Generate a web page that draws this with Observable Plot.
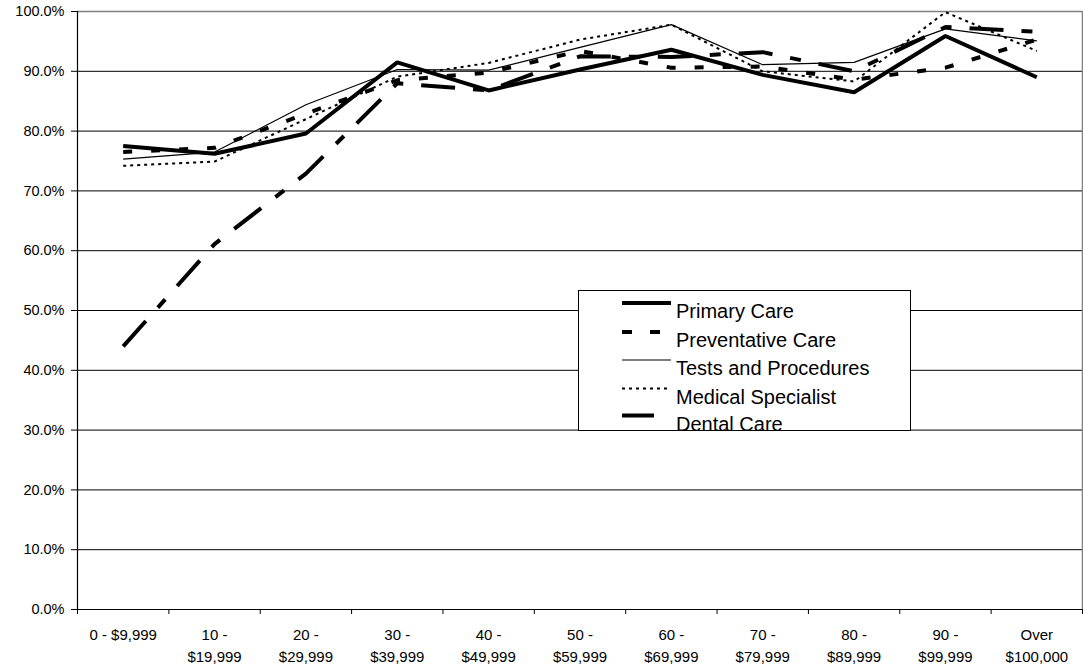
<!DOCTYPE html>
<html><head><meta charset="utf-8">
<script src="https://cdn.jsdelivr.net/npm/d3@7"></script>
<script src="https://cdn.jsdelivr.net/npm/@observablehq/plot@0.6"></script>
<style>
body{margin:0;background:#fff;}
#wrap{position:relative;width:1083px;height:670px;font-family:'Liberation Sans',Arial,sans-serif;}
#legend{position:absolute;left:578px;top:290px;width:333px;height:141px;box-sizing:border-box;border:1px solid #000;background:#fff;overflow:visible;}
#legend svg{display:block;overflow:visible;}
</style></head><body>
<div id="wrap"><div id="chart"></div><div id="legend"></div></div>
<script>
const categories = ["0 - $9,999","10 -\n$19,999","20 -\n$29,999","30 -\n$39,999","40 -\n$49,999","50 -\n$59,999","60 -\n$69,999","70 -\n$79,999","80 -\n$89,999","90 -\n$99,999","Over\n$100,000"];
const seriesNames = ["Primary Care","Preventative Care","Tests and Procedures","Medical Specialist","Dental Care"];
const primaryCare       = [77.5, 76.2, 79.6, 91.5, 86.8, 90.3, 93.6, 89.4, 86.5, 95.9, 89.0];
const preventativeCare  = [76.5, 77.2, 82.9, 88.5, 89.8, 93.4, 90.6, 90.8, 88.6, 90.6, 95.3];
const testsProcedures   = [75.3, 76.5, 84.4, 90.3, 90.2, 94.0, 97.8, 91.1, 91.5, 97.1, 95.1];
const medicalSpecialist = [74.2, 74.9, 82.0, 89.1, 91.4, 95.3, 97.8, 90.0, 88.3, 99.9, 93.4];
const dentalCare        = [44.0, 61.1, 72.9, 88.0, 86.8, 92.5, 92.4, 93.2, 90.0, 97.4, 96.6];
const yTicks = [0,10,20,30,40,50,60,70,80,90,100];

const seriesValues = [primaryCare, preventativeCare, testsProcedures, medicalSpecialist, dentalCare];
const styles = [
  {strokeWidth:4, strokeDasharray:null},
  {strokeWidth:4, strokeDasharray:"9,19"},
  {strokeWidth:1.2, strokeDasharray:null},
  {strokeWidth:2, strokeDasharray:"3,4"},
  {strokeWidth:4, strokeDasharray:"34,18,11,18"}
];

const lineMarks = seriesValues.map((vals, s) => {
  const data = vals.map((v, i) => ({i, v, series: seriesNames[s]}));
  const st = styles[s];
  const opts = {x:"i", y:"v", stroke:"#000", strokeWidth:st.strokeWidth, strokeLinejoin:"miter", strokeLinecap:"butt"};
  if (st.strokeDasharray) opts.strokeDasharray = st.strokeDasharray;
  return Plot.line(data, opts);
});

const chart = Plot.plot({
  width:1083, height:670,
  marginLeft:77, marginRight:1, marginTop:11, marginBottom:61,
  style:{fontFamily:"'Liberation Sans', Arial, sans-serif", fontSize:"14px", color:"#000", background:"#fff", overflow:"visible"},
  x:{type:"linear", domain:[-0.5, 10.5]},
  y:{domain:[0,100]},
  marks:[
    Plot.gridY(yTicks.filter(t => t > 0 && t < 100), {stroke:"#000", strokeOpacity:1, strokeWidth:1}),
    Plot.ruleY([100], {stroke:"#808080", strokeWidth:1.5}),
    Plot.ruleX([10.5], {stroke:"#808080", strokeWidth:1.5}),
    ...lineMarks,
    Plot.ruleY([0], {stroke:"#000", strokeWidth:1.2}),
    Plot.ruleX([-0.5], {stroke:"#000", strokeWidth:1.2}),
    Plot.axisY({ticks:yTicks, tickFormat:d => d.toFixed(1) + "%", tickSize:6, tickPadding:7, label:null, fontSize:14.5}),
    Plot.axisX({ticks:d3.range(-0.5, 11, 1), tickFormat:() => "", tickSize:5, label:null}),
    Plot.axisX({ticks:d3.range(0, 11), tickFormat:i => categories[i], tickSize:0, tickPadding:15, label:null, lineHeight:1.47, fontSize:15})
  ]
});
document.getElementById("chart").appendChild(chart);

// Legend
const ns = "http://www.w3.org/2000/svg";
const lsvg = document.createElementNS(ns, "svg");
lsvg.setAttribute("width", 333); lsvg.setAttribute("height", 141);
const rowY = [20, 49, 77, 105.5, 132.5];
seriesNames.forEach((name, s) => {
  const st = styles[s];
  const ln = document.createElementNS(ns, "line");
  ln.setAttribute("x1", 43); ln.setAttribute("x2", s === 4 ? 75 : 92);
  ln.setAttribute("y1", rowY[s] - 8); ln.setAttribute("y2", rowY[s] - 8);
  ln.setAttribute("stroke", "#000"); ln.setAttribute("stroke-width", st.strokeWidth);
  if (s === 1) ln.setAttribute("stroke-dasharray", "10,18");
  else if (s === 3) ln.setAttribute("stroke-dasharray", "3,4");
  lsvg.appendChild(ln);
  const tx = document.createElementNS(ns, "text");
  tx.setAttribute("x", 97); tx.setAttribute("y", rowY[s]);
  tx.setAttribute("dy", "0.35em");
  tx.setAttribute("font-size", "20px");
  tx.setAttribute("font-family", "'Liberation Sans', Arial, sans-serif");
  tx.textContent = name;
  lsvg.appendChild(tx);
});
document.getElementById("legend").appendChild(lsvg);
</script>
</body></html>
